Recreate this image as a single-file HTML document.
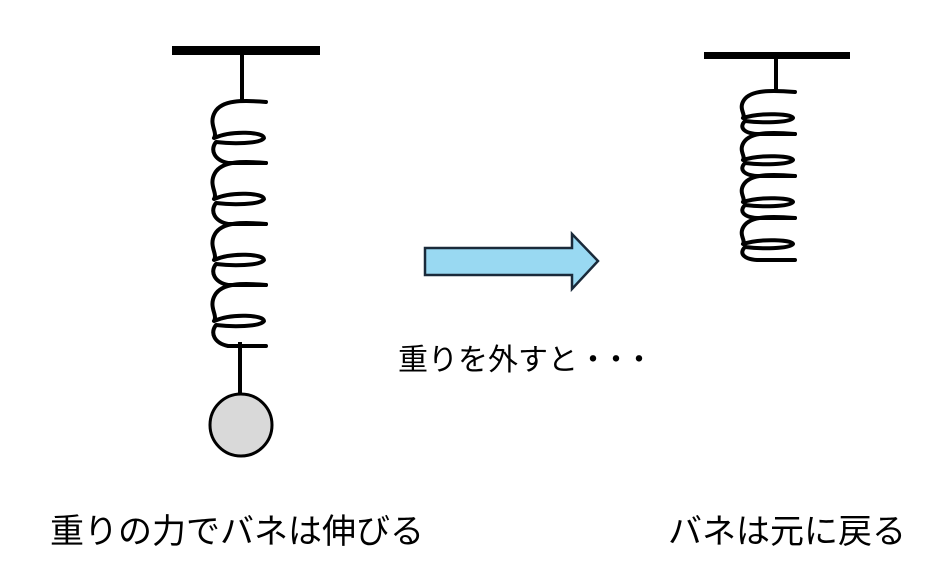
<!DOCTYPE html>
<html><head><meta charset="utf-8"><style>
html,body{margin:0;padding:0;background:#fff;}
body{width:942px;height:576px;position:relative;overflow:hidden;font-family:"Liberation Sans","Noto Sans CJK JP",sans-serif;}
.t{position:absolute;white-space:nowrap;color:#000;}
</style></head><body>
<svg width="942" height="576" style="position:absolute;left:0;top:0">
<defs>
<path id="coilA" d="M54,0 C30,-2 10,-2 3,10 C-4,22 6,30 2,36 C20,28 52,30 52,36 C48,42 20,42 4,40 C-2,48 2,58 16,61 L54,61" fill="none" stroke="#000" stroke-width="4" stroke-linejoin="round" stroke-linecap="round"/>
<path id="coilB" d="M54,0 C30,-2 10,-2 3,8 C-3,17 5,22 2,26 C20,20 52,22 52,26 C48,31 20,31 4,29 C-2,35 2,41 16,42 L54,42" fill="none" stroke="#000" stroke-width="4" stroke-linejoin="round" stroke-linecap="round"/>
</defs>
<rect x="172" y="46" width="148" height="9" fill="#000"/>
<line x1="242" y1="50" x2="242" y2="103" stroke="#000" stroke-width="4"/>
<g transform="translate(212,102)">
<use href="#coilA"/><use href="#coilA" y="61"/><use href="#coilA" y="122"/><use href="#coilA" y="183"/>
</g>
<line x1="240" y1="342" x2="240" y2="394" stroke="#000" stroke-width="4"/>
<circle cx="241" cy="425" r="31" fill="#d9d9d9" stroke="#000" stroke-width="3"/>
<rect x="704" y="52" width="146" height="7" fill="#000"/>
<line x1="776" y1="55" x2="776" y2="92" stroke="#000" stroke-width="4"/>
<g transform="translate(741,92)">
<use href="#coilB"/><use href="#coilB" y="42"/><use href="#coilB" y="84"/><use href="#coilB" y="126"/>
</g>
<polygon points="425,248 572,248 572,234 598,261 572,289 572,275 425,275" fill="#99d9f2" stroke="#1a2a3a" stroke-width="2.5" stroke-linejoin="miter"/>
</svg>
<div class="t" style="left:398px;top:335px;font-size:30px;">重りを外すと<span style="letter-spacing:-7px">・・・</span></div>
<div class="t" style="left:50px;top:504px;font-size:34px;">重りの力でバネは伸びる</div>
<div class="t" style="left:668px;top:504px;font-size:34px;">バネは元に戻る</div>
</body></html>
